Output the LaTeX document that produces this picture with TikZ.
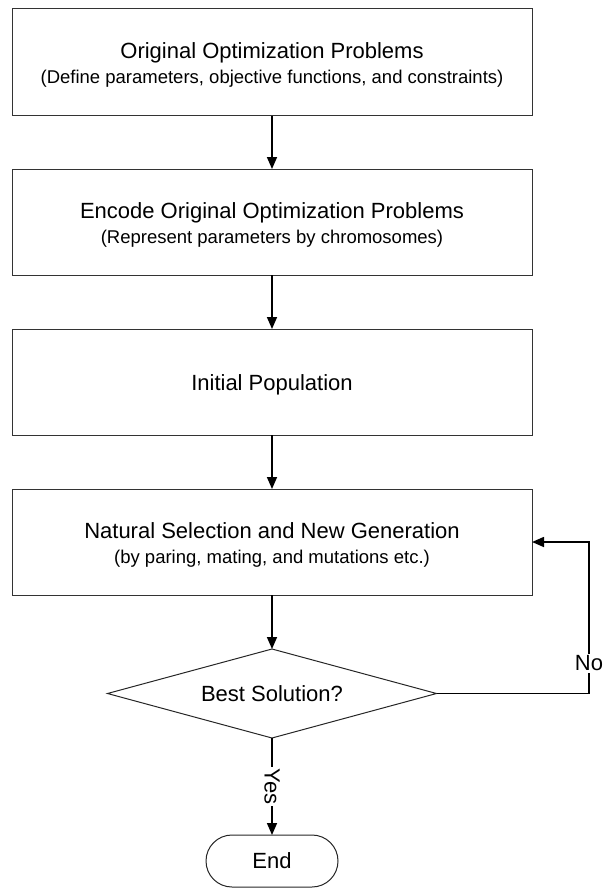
\documentclass[tikz,border=0pt]{standalone}
\usepackage{fontspec}
\setmainfont{Liberation Sans}
\usetikzlibrary{shapes.geometric,shapes.misc,arrows.meta}
\begin{document}
\begin{tikzpicture}[x=1pt,y=-1pt,
  stepbox/.style={draw=black!80, line width=1pt, minimum width=520pt,
    minimum height=106pt, inner sep=0pt, outer sep=0pt},
  titletext/.style={font=\fontsize{22}{26}\selectfont, anchor=base, inner sep=0pt},
  subtext/.style={font=\fontsize{18.5}{22}\selectfont, anchor=base, inner sep=0pt},
  flow/.style={line width=1.6pt, -{Triangle[length=12pt,width=10pt]}},
  tag/.style={fill=white, inner sep=2pt, font=\fontsize{22}{26}\selectfont},
  decision/.style={diamond, aspect=3.7, draw=black!85, line width=1pt, minimum width=329pt,
    minimum height=89pt, inner sep=0pt, outer sep=0pt, font=\fontsize{22}{26}\selectfont},
  terminal/.style={rounded rectangle, draw=black!85, line width=1pt, minimum width=132pt,
    minimum height=52pt, inner sep=0pt, outer sep=0pt, font=\fontsize{22}{26}\selectfont}
]
\useasboundingbox (0,0) rectangle (605,888);

% process boxes
\node[stepbox, minimum height=107pt] (b1) at (272,62.5) {};
\node[titletext] (b1t) at (272,58.5) {Original Optimization Problems};
\node[subtext] (b1s) at (272,83.5) {(Define parameters, objective functions, and constraints)};

\node[stepbox] (b2) at (272,222) {};
\node[titletext] (b2t) at (272,218) {Encode Original Optimization Problems};
\node[subtext] (b2s) at (272,243) {(Represent parameters by chromosomes)};

\node[stepbox] (b3) at (272,382) {};
\node[titletext] (b3t) at (272,390) {Initial Population};

\node[stepbox] (b4) at (272,542) {};
\node[titletext] (b4t) at (272,538) {Natural Selection and New Generation};
\node[subtext] (b4s) at (272,563) {(by paring, mating, and mutations etc.)};

% decision and end
\node[decision] (dia) at (272,693.5) {Best Solution?};
\node[terminal] (end) at (272,861) {End};
\coordinate (nobend) at (589,693.5);

% connectors
\draw[flow] (b1) -- (b2);
\draw[flow] (b2) -- (b3);
\draw[flow] (b3) -- (b4);
\draw[flow] (b4) -- (dia);
\draw[flow] (dia) -- node[tag, rotate=-90] {Yes} (end);
\draw[flow] (dia.east) -- (nobend) |- node[tag, pos=0.1] {No} (b4.east);
\end{tikzpicture}
\end{document}
